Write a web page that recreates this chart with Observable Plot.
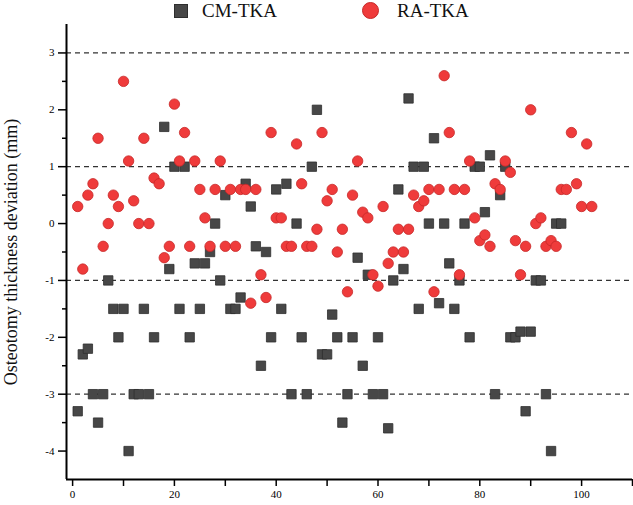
<!DOCTYPE html>
<html>
<head>
<meta charset="utf-8">
<script src="https://cdn.jsdelivr.net/npm/d3@7"></script>
<script src="https://cdn.jsdelivr.net/npm/@observablehq/plot@0.6"></script>
<style>
  html, body { margin: 0; padding: 0; background: #fff; }
  #wrap { position: relative; width: 633px; height: 505px; font-family: "Liberation Serif", "Times New Roman", serif; }
  #legend { position: absolute; left: 0; top: 0; width: 633px; height: 30px; }
  .lg { position: absolute; font-size: 19px; line-height: 20px; color: #111; white-space: nowrap; }
  .sq { position: absolute; width: 12px; height: 12px; background: #474747; border: 1px solid #2e2e2e; }
  .ci { position: absolute; width: 15px; height: 15px; border-radius: 50%; background: #ef3b3b; border: 1px solid #c62828; }
  #chart { position: absolute; left: 0; top: 0; }
  #chart svg text { font-family: "Liberation Serif", "Times New Roman", serif; }
</style>
</head>
<body>
<div id="wrap">
  <div id="chart"></div>
  <div id="legend"></div>
</div>
<script>
// ---- Data ----
const seriesNames = ["CM-TKA", "RA-TKA"];

const cmX = [1,2,3,4,5,6,7,8,9,10,11,12,13,14,15,16,
  18,19,20,21,22,23,24,25,26,27,28,29,30,31,32,33,34,35,36,37,38,39,40,
  41,42,43,44,45,46,47,48,49,50,51,52,53,54,55,56,57,58,59,60,
  61,62,63,64,65,66,67,68,69,70,71,72,73,74,75,76,77,78,79,80,
  81,82,83,84,85,86,87,88,89,90,91,92,93,94,95,96];
const cmY = [-3.3,-2.3,-2.2,-3,-3.5,-3,-1,-1.5,-2,-1.5,-4,-3,-3,-1.5,-3,-2,
  1.7,-0.8,1.0,-1.5,1.0,-2,-0.7,-1.5,-0.7,-0.5,0,-1,0.5,-1.5,-1.5,-1.3,0.7,0.3,-0.4,-2.5,-0.5,-2,0.6,
  -1.5,0.7,-3,0,-2,-3,1.0,2.0,-2.3,-2.3,-1.6,-2,-3.5,-3,-2,-0.6,-2.5,-0.9,-3,-2,
  -3,-3.6,-1,0.6,-0.8,2.2,1.0,-1.5,1.0,0,1.5,-1.4,0,-0.7,-1.5,-1,0,-2,1.0,1.0,
  0.2,1.2,-3,0.5,1.0,-2,-2,-1.9,-3.3,-1.9,-1,-1,-3,-4,0,0];

const raX = d3.range(1, 103);
const raY = [0.3,-0.8,0.5,0.7,1.5,-0.4,0,0.5,0.3,2.5,
  1.1,0.4,0,1.5,0,0.8,0.7,-0.6,-0.4,2.1,
  1.1,1.6,-0.4,1.1,0.6,0.1,-0.4,0.6,1.1,-0.4,
  0.6,-0.4,0.6,0.6,-1.4,0.6,-0.9,-1.3,1.6,0.1,
  0.1,-0.4,-0.4,1.4,0.7,-0.4,-0.4,-0.1,1.6,0.4,
  0.6,-0.5,-0.1,-1.2,0.5,1.1,0.2,0.1,-0.9,-1.1,
  0.3,-0.7,-0.5,-0.1,-0.5,-0.1,0.5,0.3,0.4,0.6,
  -1.2,0.6,2.6,1.6,0.6,-0.9,0.6,1.1,0.1,-0.3,
  -0.2,-0.4,0.7,0.6,1.1,0.9,-0.3,-0.9,-0.4,2.0,
  0,0.1,-0.4,-0.3,-0.4,0.6,0.6,1.6,0.7,0.3,
  1.4,0.3];

const yLabelTicks = [-4,-3,-2,-1,0,1,2,3];
const yMinorTicks = [-3.5,-2.5,-1.5,-0.5,0.5,1.5,2.5];
const xTickValues = [0,10,20,30,40,50,60,70,80,90,100,110];
const xLabelTicks = [0,20,40,60,80,100];
const gridLines = [-3,-1,1,3];
const yTitle = "Osteotomy thickness deviation (mm)";

const cm = cmX.map((x, i) => ({x, y: cmY[i]}));
const ra = raX.map((x, i) => ({x, y: raY[i]}));

const xDomain = [-1.2, 110];
const yDomain = [-4.5, 3.5];
const serif = "Liberation Serif, Times New Roman, serif";

const chart = Plot.plot({
  width: 633,
  height: 505,
  marginLeft: 66,
  marginRight: 1,
  marginTop: 24,
  marginBottom: 26,
  x: {domain: xDomain},
  y: {domain: yDomain},
  style: {fontFamily: serif, fontSize: "11px", color: "#000", background: "#fff"},
  marks: [
    Plot.ruleY(gridLines, {stroke: "#333", strokeWidth: 1.2, strokeDasharray: "5,4"}),
    Plot.axisY({ticks: yLabelTicks, tickSize: 8, tickPadding: 4, tickFormat: d => String(d), label: null, stroke: "#000", strokeWidth: 1.5, fontSize: 11, fontFamily: serif}),
    Plot.axisY({ticks: yMinorTicks, tickSize: 4, tickFormat: () => "", label: null, stroke: "#000", strokeWidth: 1.5}),
    Plot.axisX({ticks: xTickValues, tickSize: 7, tickPadding: 4, tickFormat: d => xLabelTicks.includes(d) ? String(d) : "", label: null, stroke: "#000", strokeWidth: 1.5, fontSize: 11, fontFamily: serif}),
    Plot.ruleX([xDomain[0]], {stroke: "#000", strokeWidth: 2}),
    Plot.ruleY([yDomain[0]], {stroke: "#000", strokeWidth: 2}),
    Plot.dot(cm, {x: "x", y: "y", symbol: "square", r: 5.3, fill: "#474747", stroke: "#2e2e2e", strokeWidth: 0.8}),
    Plot.dot(ra, {x: "x", y: "y", symbol: "circle", r: 5.2, fill: "#ef3b3b", stroke: "#c62828", strokeWidth: 0.8}),
    Plot.text([yTitle], {frameAnchor: "left", rotate: -90, dx: -55, fontSize: 18, fill: "#111", textAnchor: "middle", fontFamily: serif})
  ]
});
document.getElementById("chart").appendChild(chart);

// ---- Legend (HTML, above the plot area) ----
const legend = document.getElementById("legend");
legend.innerHTML = `
  <div class="sq" style="left:174px; top:4px;"></div>
  <div class="lg" style="left:202px; top:1px;">${seriesNames[0]}</div>
  <div class="ci" style="left:362px; top:2px;"></div>
  <div class="lg" style="left:397px; top:1px;">${seriesNames[1]}</div>
`;
</script>
</body>
</html>
